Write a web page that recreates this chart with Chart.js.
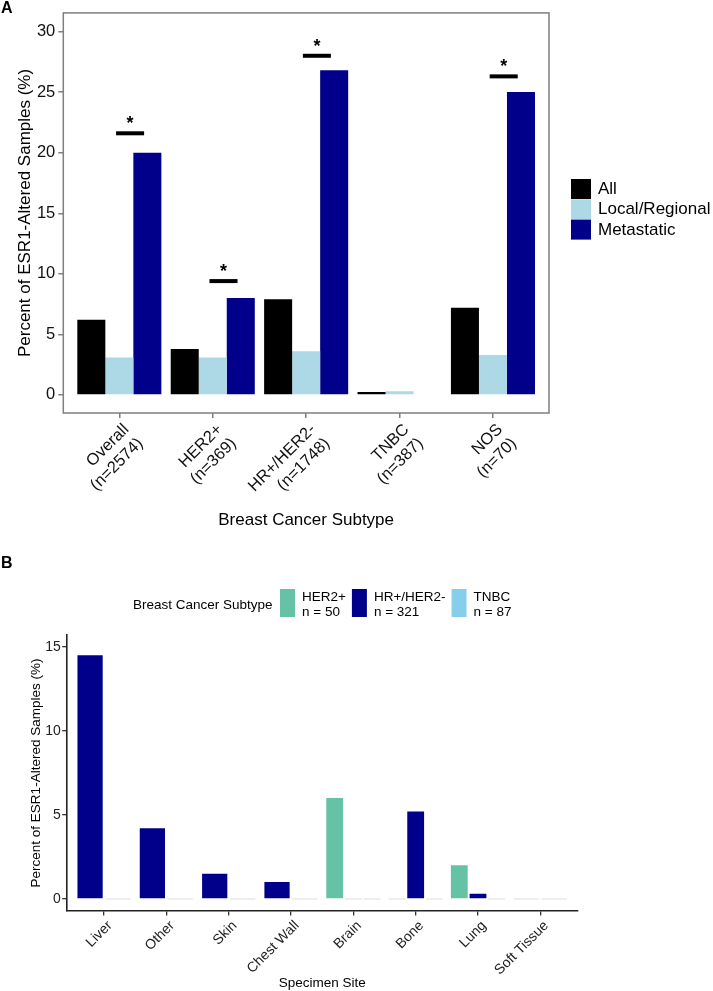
<!DOCTYPE html>
<html>
<head>
<meta charset="utf-8">
<script src="https://cdn.jsdelivr.net/npm/chart.js@4.4.1/dist/chart.umd.min.js"></script>
<style>
  html, body { margin: 0; padding: 0; background: #fff; }
  #wrapA { position: absolute; left: 0; top: 0; width: 713px; height: 548px; }
  #wrapB { position: absolute; left: 0; top: 555px; width: 713px; height: 436px; }
</style>
</head>
<body>
<div id="wrapA"><canvas id="chartA"></canvas></div>
<div id="wrapB"><canvas id="chartB"></canvas></div>
<script>
const FONT = "'Liberation Sans', Arial, sans-serif";

// ---- Panel A data ----
const subtypesA = [['Overall', '(n=2574)'], ['HER2+', '(n=369)'], ['HR+/HER2-', '(n=1748)'], ['TNBC', '(n=387)'], ['NOS', '(n=70)']];
const seriesA = ['All', 'Local/Regional', 'Metastatic'];
const allA = [6.2, 3.8, 7.9, 0.25, 7.2];
const localA = [3.1, 3.1, 3.6, 0.3, 3.3];
const metA = [20.0, 8.0, 26.8, null, 25.0];
const sigA = [21.6, 9.4, 28.0, null, 26.3]; // height of the significance bars
const yTicksA = [0, 5, 10, 15, 20, 25, 30];
const colorsA = ['#000000', '#ADD8E6', '#00008B'];

// ---- Panel B data ----
const sitesB = ['Liver', 'Other', 'Skin', 'Chest Wall', 'Brain', 'Bone', 'Lung', 'Soft Tissue'];
const groupsB = [['HER2+', 'n = 50'], ['HR+/HER2-', 'n = 321'], ['TNBC', 'n = 87']];
const her2B = [null, null, null, null, 6.0, 0, 2.0, null];
const hrB = [14.5, 4.2, 1.5, 1.0, 0, 5.2, 0.3, 0];
const tnbcB = [0, 0, 0, 0, 0, 0, 0, 0];
const yTicksB = [0, 5, 10, 15];
const colorsB = ['#66C2A5', '#00008B', '#87CEEB'];

const toPoints = (arr) => arr.map((v, i) => ({ x: i, y: v }));

function panelLetter(letter) {
  return {
    id: 'letter' + letter,
    afterDraw(chart) {
      const ctx = chart.ctx;
      ctx.save();
      ctx.fillStyle = '#000';
      ctx.font = `bold 16px ${FONT}`;
      ctx.textAlign = 'left';
      ctx.textBaseline = 'alphabetic';
      ctx.fillText(letter, 1, 13);
      ctx.restore();
    }
  };
}

// box around panel A plot area
const frameA = {
  id: 'frameA',
  afterDraw(chart) {
    const { ctx, chartArea: a } = chart;
    ctx.save();
    ctx.strokeStyle = '#7f7f7f';
    ctx.lineWidth = 1.5;
    ctx.strokeRect(a.left, a.top, a.right - a.left, a.bottom - a.top);
    ctx.restore();
  }
};

// significance bars and asterisks
const sigMarks = {
  id: 'sigMarks',
  afterDatasetsDraw(chart) {
    const { ctx, scales: { x, y } } = chart;
    ctx.save();
    ctx.fillStyle = '#000';
    ctx.font = `bold 18px ${FONT}`;
    ctx.textAlign = 'center';
    ctx.textBaseline = 'alphabetic';
    sigA.forEach((v, i) => {
      if (v == null) return;
      const x0 = x.getPixelForValue(i - 0.035);
      const x1 = x.getPixelForValue(i + 0.265);
      const py = y.getPixelForValue(v);
      ctx.fillRect(x0, py - 2, x1 - x0, 4);
      ctx.fillText('*', (x0 + x1) / 2, py - 4);
    });
    ctx.restore();
  }
};

const legendA = {
  id: 'legendA',
  afterDraw(chart) {
    const ctx = chart.ctx;
    ctx.save();
    ctx.font = `17px ${FONT}`;
    ctx.textAlign = 'left';
    ctx.textBaseline = 'middle';
    seriesA.forEach((name, k) => {
      const top = 179 + k * 20.3;
      ctx.fillStyle = colorsA[k];
      ctx.fillRect(571, top, 20, 20);
      ctx.fillStyle = '#000';
      ctx.fillText(name, 598, top + 10.5);
    });
    ctx.restore();
  }
};

const legendB = {
  id: 'legendB',
  afterDraw(chart) {
    const ctx = chart.ctx;
    ctx.save();
    ctx.font = `13.5px ${FONT}`;
    ctx.textAlign = 'left';
    ctx.textBaseline = 'middle';
    ctx.fillStyle = '#000';
    ctx.fillText('Breast Cancer Subtype', 133, 50);
    let x = 280;
    groupsB.forEach((lines, k) => {
      ctx.fillStyle = colorsB[k];
      ctx.fillRect(x, 34, 15, 28);
      ctx.fillStyle = '#000';
      ctx.fillText(lines[0], x + 22, 42);
      ctx.fillText(lines[1], x + 22, 57);
      const w = Math.max(ctx.measureText(lines[0]).width, ctx.measureText(lines[1]).width);
      x += 22 + w + 6;
    });
    ctx.restore();
  }
};

new Chart(document.getElementById('chartA'), {
  type: 'bar',
  data: {
    datasets: [allA, localA, metA].map((vals, k) => ({
      label: seriesA[k],
      data: toPoints(vals),
      backgroundColor: colorsA[k],
      borderWidth: 0,
      categoryPercentage: 0.9,
      barPercentage: 1.0
    }))
  },
  options: {
    responsive: true,
    maintainAspectRatio: false,
    animation: false,
    layout: { padding: { left: 0, top: 7, right: 164, bottom: 0 } },
    plugins: { legend: { display: false }, tooltip: { enabled: false } },
    scales: {
      x: {
        type: 'linear',
        min: -0.6,
        max: 4.6,
        offset: false,
        afterBuildTicks: (s) => { s.ticks = subtypesA.map((_, i) => ({ value: i })); },
        afterFit: (s) => { s.height = 135; },
        ticks: {
          callback: (v) => subtypesA[v],
          autoSkip: false,
          minRotation: 45,
          maxRotation: 45,
          padding: 2,
          color: '#111',
          font: { family: FONT, size: 16.5 },
          showLabelBackdrop: true,
          backdropColor: 'rgba(0,0,0,0)',
          backdropPadding: 0
        },
        grid: { offset: false, drawOnChartArea: false, tickLength: 5, color: '#7f7f7f', lineWidth: 1.5 },
        border: { display: false },
        title: {
          display: true, text: 'Breast Cancer Subtype', color: '#000',
          font: { family: FONT, size: 17 }, padding: { top: 0, bottom: 17 }
        }
      },
      y: {
        min: -1.49,
        max: 31.54,
        afterBuildTicks: (s) => { s.ticks = yTicksA.map(v => ({ value: v })); },
        afterFit: (s) => { s.width = 63.3; },
        ticks: { padding: 3, color: '#111', font: { family: FONT, size: 16.5 } },
        grid: { drawOnChartArea: false, tickLength: 5, color: '#7f7f7f', lineWidth: 1.5 },
        border: { display: false },
        title: {
          display: true, text: 'Percent of ESR1-Altered Samples (%)', color: '#000',
          font: { family: FONT, size: 17 }, padding: { top: 15, bottom: 0 }
        }
      }
    }
  },
  plugins: [frameA, sigMarks, legendA, panelLetter('A')]
});

new Chart(document.getElementById('chartB'), {
  type: 'bar',
  data: {
    datasets: [her2B, hrB, tnbcB].map((vals, k) => ({
      label: groupsB[k][0],
      data: toPoints(vals),
      backgroundColor: (c) => (c.raw && c.raw.y === 0) ? '#e9e9e9' : colorsB[k],
      borderWidth: 0,
      minBarLength: 1.5,
      skipNull: true,
      categoryPercentage: 0.9,
      barPercentage: 0.9
    }))
  },
  options: {
    responsive: true,
    maintainAspectRatio: false,
    animation: false,
    layout: { padding: { left: 0, top: 80, right: 135.3, bottom: 0 } },
    plugins: { legend: { display: false }, tooltip: { enabled: false } },
    scales: {
      x: {
        type: 'linear',
        min: -0.6,
        max: 7.6,
        offset: false,
        afterBuildTicks: (s) => { s.ticks = sitesB.map((_, i) => ({ value: i })); },
        afterFit: (s) => { s.height = 80; },
        ticks: {
          callback: (v) => sitesB[v],
          autoSkip: false,
          minRotation: 45,
          maxRotation: 45,
          padding: 2,
          color: '#222',
          font: { family: FONT, size: 14 },
          showLabelBackdrop: true,
          backdropColor: 'rgba(0,0,0,0)',
          backdropPadding: 0
        },
        grid: { offset: false, drawOnChartArea: false, tickLength: 4.5, color: '#333', lineWidth: 1.3 },
        border: { display: true, color: '#222', width: 1.6 },
        title: {
          display: true, text: 'Specimen Site', color: '#000',
          font: { family: FONT, size: 13.5 }, padding: { top: 0, bottom: 0 }
        }
      },
      y: {
        min: -0.72,
        max: 15.71,
        afterBuildTicks: (s) => { s.ticks = yTicksB.map(v => ({ value: v })); },
        afterFit: (s) => { s.width = 66.7; },
        ticks: { padding: 1.5, color: '#222', font: { family: FONT, size: 14 } },
        grid: { drawOnChartArea: false, tickLength: 4.5, color: '#333', lineWidth: 1.3 },
        border: { display: true, color: '#222', width: 1.6 },
        title: {
          display: true, text: 'Percent of ESR1-Altered Samples (%)', color: '#000',
          font: { family: FONT, size: 13.5 }, padding: { top: 28, bottom: 0 }
        }
      }
    }
  },
  plugins: [legendB, panelLetter('B')]
});
</script>
</body>
</html>
